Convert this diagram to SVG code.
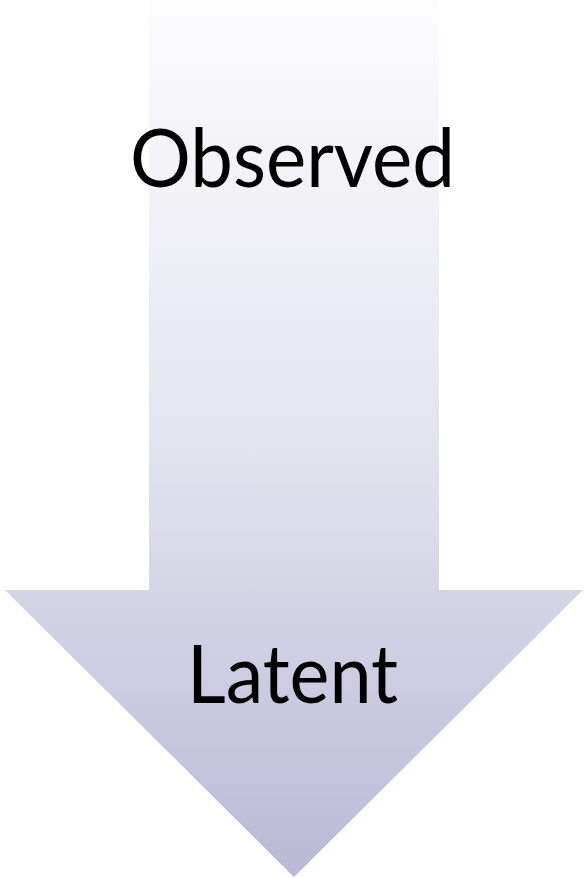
<svg xmlns="http://www.w3.org/2000/svg" width="585" height="878" viewBox="0 0 585 878">
  <defs>
    <linearGradient id="arrowFill" x1="0" y1="0" x2="0" y2="878" gradientUnits="userSpaceOnUse">
      <stop offset="0" stop-color="#FCFCFD"/>
      <stop offset="0.5" stop-color="#E4E4EF"/>
      <stop offset="1" stop-color="#BAB8D6"/>
    </linearGradient>
    <style>
      .label { font-family: Lato, "Open Sans", sans-serif; font-size: 82px; fill: #000; }
    </style>
  </defs>
  <g id="arrow">
    <polygon points="149,0 439,0 439,590 583,590 294,877 5,590 149,590" fill="url(#arrowFill)"/>
  </g>
  <g id="observed">
    <text class="label" x="130" y="187" textLength="325" lengthAdjust="spacingAndGlyphs">Observed</text>
  </g>
  <g id="latent">
    <text class="label" x="187" y="703" textLength="211" lengthAdjust="spacingAndGlyphs">Latent</text>
  </g>
</svg>
